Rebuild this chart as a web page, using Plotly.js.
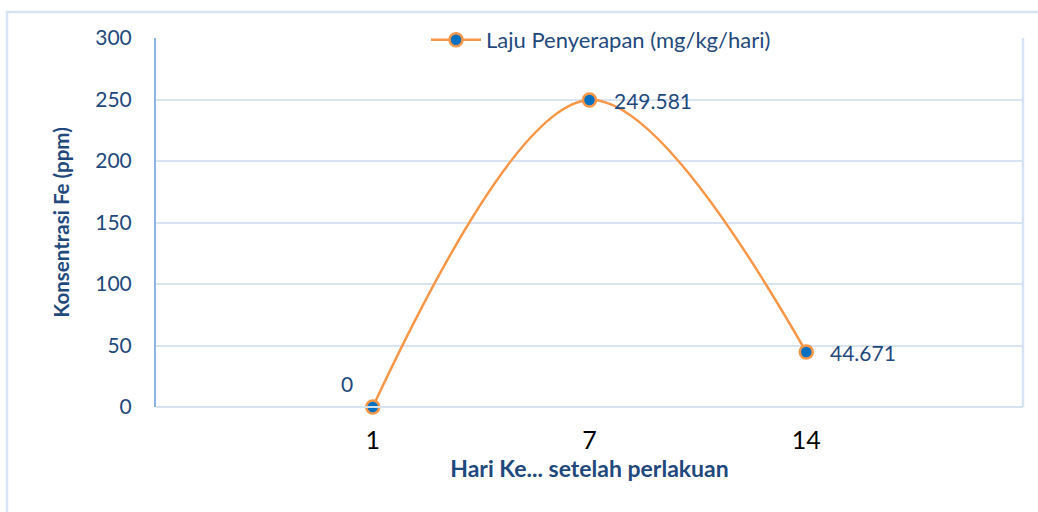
<!DOCTYPE html>
<html>
<head>
<meta charset="utf-8">
<script src="https://cdn.plot.ly/plotly-3.0.1.min.js"></script>
<style>html,body{margin:0;padding:0;background:#fff}#chart{width:1038px;height:512px}</style>
</head>
<body>
<div id="chart"></div>
<script>
var categories = ['1', '7', '14'];
var values = [0, 249.581, 44.671];
var valueLabels = ['0', '249.581', '44.671'];
var seriesName = 'Laju Penyerapan (mg/kg/hari)';
var yTicks = [0, 50, 100, 150, 200, 250, 300];
var xTitle = 'Hari Ke... setelah perlakuan';
var yTitle = 'Konsentrasi Fe (ppm)';

var idx = categories.map(function(c, i){ return i; });
var FONT = 'Lato, "Open Sans", sans-serif';
var DARK = '#1f497d';

var trace = {
  x: idx, y: values, name: seriesName,
  type: 'scatter', mode: 'lines+markers',
  line: {color: '#f79646', width: 2.5, shape: 'spline', smoothing: 1},
  marker: {size: 13, color: '#0070c0', line: {color: '#f79646', width: 2.5}},
  cliponaxis: false
};

// label placement offsets per point (pixels)
var labelShift = [[-26, 24, 'center'], [22, 0, 'left'], [22, 0, 'left']];
var labelAnnotations = idx.map(function(i){
  return {x: i, y: values[i], xref: 'x', yref: 'y', text: valueLabels[i], showarrow: false,
          xanchor: labelShift[i][2], yanchor: 'middle', xshift: labelShift[i][0], yshift: labelShift[i][1],
          font: {family: FONT, size: 21, color: DARK}};
});

var W = 1038, H = 512, L = 156, R = 15, T = 38, B = 105;
var pw = W - L - R, ph = H - T - B;

var layout = {
  width: W, height: H,
  margin: {l: L, r: R, t: T, b: B},
  paper_bgcolor: '#fff', plot_bgcolor: '#fff',
  showlegend: true,
  legend: {orientation: 'h', x: (426 - L) / pw, xanchor: 'left', y: 1 - (40 - T) / ph, yanchor: 'middle',
           itemwidth: 50,
           font: {family: FONT, size: 22, color: DARK}, bgcolor: 'rgba(255,255,255,0)'},
  xaxis: {
    range: [-1, 3], tickmode: 'array', tickvals: idx, ticktext: categories,
    showgrid: false, zeroline: false, showline: false, ticks: '',
    tickfont: {family: FONT, size: 25, color: '#000'},
    ticklabelstandoff: 16,
    title: {text: xTitle, font: {family: FONT, size: 23, color: DARK, weight: 'bold'}, standoff: 5}
  },
  yaxis: {
    range: [0, 300], tickmode: 'array', tickvals: yTicks,
    showgrid: true, gridcolor: '#d9e4f3', gridwidth: 2,
    zeroline: false, showline: true, linecolor: '#8db3e2', linewidth: 2, mirror: false,
    ticks: '', ticklabelstandoff: 18,
    tickfont: {family: FONT, size: 21, color: DARK},
    title: {text: yTitle, font: {family: FONT, size: 20.5, color: DARK, weight: 'bold'}, standoff: 20}
  },
  annotations: labelAnnotations,
  shapes: [
    {type: 'rect', xref: 'paper', yref: 'paper', x0: (7 - L) / pw, x1: 1.1, y0: -0.5, y1: 1 + (T - 12) / ph,
     line: {color: '#d6e3f3', width: 2.5}, layer: 'below'},
    {type: 'line', xref: 'paper', yref: 'paper', x0: 1, x1: 1, y0: 0, y1: 1, line: {color: '#d6e3f3', width: 2.5}},
    {type: 'line', xref: 'paper', yref: 'paper', x0: 0, x1: 1, y0: 0, y1: 0, line: {color: '#d6e3f3', width: 2}}
  ]
};

Plotly.newPlot('chart', [trace], layout, {displayModeBar: false, staticPlot: true});
</script>
</body>
</html>
